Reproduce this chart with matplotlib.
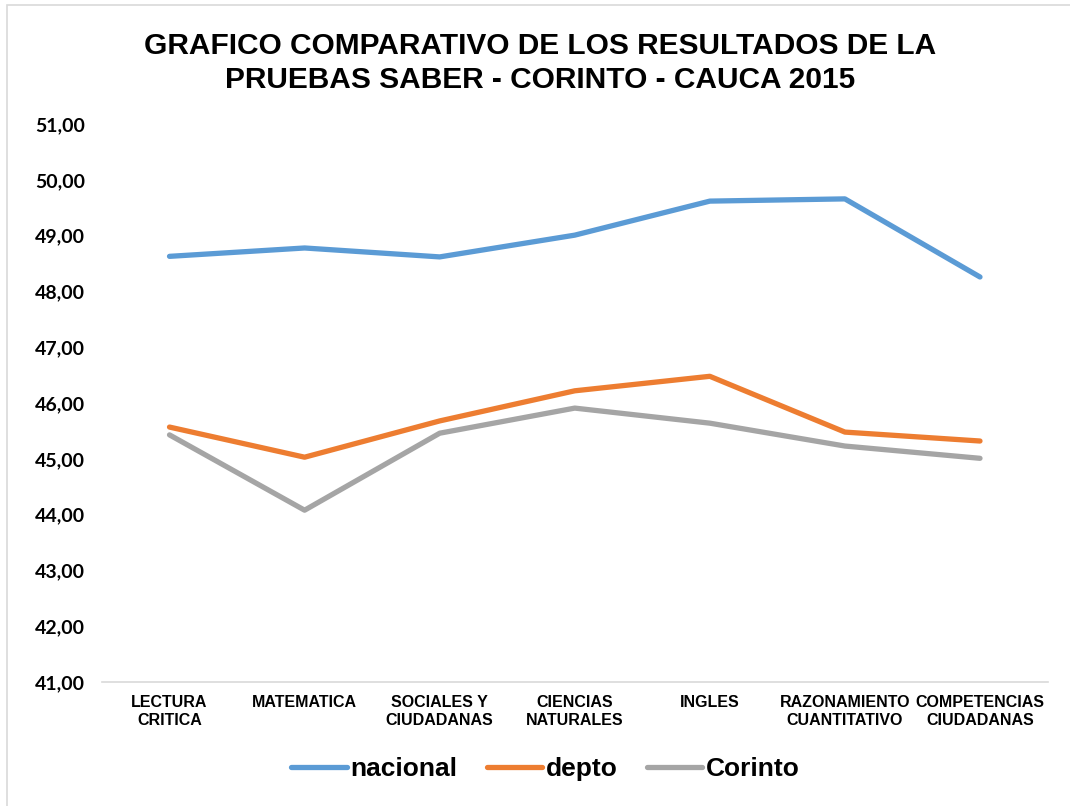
import matplotlib.pyplot as plt
from matplotlib.patches import Rectangle
import numpy as np

plt.rcParams['font.family'] = ['Liberation Sans', 'DejaVu Sans']

categorias = ["LECTURA\nCRITICA", "MATEMATICA", "SOCIALES Y\nCIUDADANAS", "CIENCIAS\nNATURALES",
              "INGLES", "RAZONAMIENTO\nCUANTITATIVO", "COMPETENCIAS\nCIUDADANAS"]
nacional = [48.63, 48.78, 48.62, 49.01, 49.62, 49.66, 48.26]
depto = [45.57, 45.03, 45.68, 46.22, 46.48, 45.48, 45.32]
corinto = [45.43, 44.08, 45.46, 45.91, 45.64, 45.23, 45.01]
yticks = np.arange(41, 52, 1)

fig = plt.figure(figsize=(10.7, 8.06), dpi=100)
ax = fig.add_axes([0.0953, 0.1538, 0.8837, 0.6922])

x = np.arange(len(categorias))
ax.plot(x, nacional, color='#5B9BD5', lw=3.8, label='nacional', solid_capstyle='round')
ax.plot(x, depto, color='#ED7D31', lw=3.8, label='depto', solid_capstyle='round')
ax.plot(x, corinto, color='#A5A5A5', lw=3.8, label='Corinto', solid_capstyle='round')

ax.set_xlim(-0.5, len(categorias) - 0.5)
ax.set_ylim(41, 51)
ax.set_yticks(yticks)
ax.set_yticklabels([f"{v:.2f}".replace('.', ',') for v in yticks], fontsize=14,
                   fontweight='bold', family=['Lato', 'DejaVu Sans'])
ax.set_xticks(x)
ax.set_xticklabels(categorias, fontsize=11.5, fontweight='bold', linespacing=1.3)
ax.tick_params(axis='both', length=0)
ax.tick_params(axis='y', pad=12)
ax.tick_params(axis='x', pad=9)
for s in ['top', 'right', 'left']:
    ax.spines[s].set_visible(False)
ax.spines['bottom'].set_color('#D9D9D9')
ax.spines['bottom'].set_linewidth(1.2)

fig.text(0.505, 0.922, "GRAFICO COMPARATIVO DE LOS RESULTADOS DE LA\nPRUEBAS SABER - CORINTO - CAUCA 2015",
         ha='center', va='center', fontsize=21.5, fontweight='bold', linespacing=1.27)

leg = fig.legend(loc='center', bbox_to_anchor=(0.51, 0.046), ncol=3, frameon=False,
                 prop={'size': 19, 'weight': 'bold'}, handlelength=2.1, handletextpad=0.15,
                 columnspacing=1.1)

# marco del grafico
fig.patches.append(Rectangle((7 / 1070, -0.01), 1.1, 1 - 4.5 / 806 + 0.01, transform=fig.transFigure,
                             fill=False, edgecolor='#D9D9D9', lw=1.2))

fig.savefig('out.png', dpi=100)
